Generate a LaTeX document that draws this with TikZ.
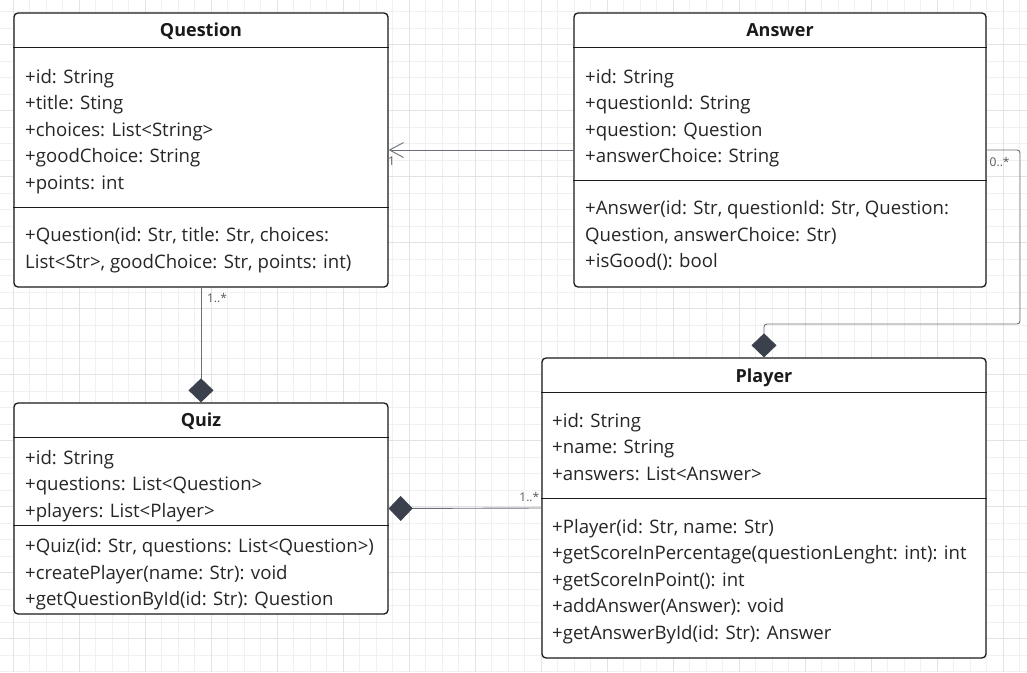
\documentclass[tikz,border=0pt]{standalone}
\usepackage{fontspec}
\setmainfont{Open Sans}
\usetikzlibrary{arrows.meta,positioning,calc}
\definecolor{gridminor}{HTML}{F0F0F0}
\definecolor{gridmajor}{HTML}{E3E3E3}
\definecolor{ink}{HTML}{1A1A1A}
\definecolor{textgray}{HTML}{262626}
\definecolor{linkgray}{HTML}{6B7079}
\definecolor{diamondfill}{HTML}{3B414C}
\tikzset{
  classbox/.style={draw=ink, line width=1.3pt, rounded corners=4pt, fill=white, inner sep=0pt},
  divider/.style={draw=ink, line width=1.3pt},
  classtitle/.style={font=\fontsize{18}{21}\selectfont\bfseries, text=ink, anchor=base, inner sep=0pt},
  member/.style={font=\fontsize{18.6}{22}\selectfont, text=textgray, anchor=base west, inner sep=0pt},
  link/.style={draw=linkgray, line width=0.9pt},
  compose/.style={link, -{Diamond[length=24pt, width=25pt, color=diamondfill]}},
  assoc/.style={link, -{Straight Barb[length=14pt, width=15pt, line width=0.9pt]}},
  mult/.style={font=\fontsize{12}{13}\selectfont, text=linkgray!80!black, inner sep=0pt}
}

\begin{document}
\begin{tikzpicture}[x=1pt, y=-1pt]
  \useasboundingbox (0,0) rectangle (1027,672);
  \fill[white] (0,0) rectangle (1027,672);

  % background grid
  \foreach \k in {0,...,63}
    \draw[gridminor, line width=0.8pt] ({-3.2+16.5*\k},0) -- ({-3.2+16.5*\k},672);
  \foreach \k in {0,...,40}
    \draw[gridminor, line width=0.8pt] (0,{11.7+16.5*\k}) -- (1027,{11.7+16.5*\k});
  \foreach \k in {0,...,15}
    \draw[gridmajor, line width=0.8pt] ({13.3+66*\k},0) -- ({13.3+66*\k},672);
  \foreach \k in {0,...,9}
    \draw[gridmajor, line width=0.8pt] (0,{44.7+66*\k}) -- (1027,{44.7+66*\k});

  % classes
  \node[classbox, minimum width=374pt, minimum height=274pt] (question) at (201,150) {};
  \node[classbox, minimum width=412pt, minimum height=274pt] (answer) at (780,150) {};
  \node[classbox, minimum width=374pt, minimum height=211pt] (quiz) at (201,508.5) {};
  \node[classbox, minimum width=444pt, minimum height=300pt] (player) at (764,508) {};

  \draw[divider] ($(question.north west)+(0,35)$) -- ($(question.north east)+(0,35)$);
  \draw[divider] ($(question.north west)+(0,195)$) -- ($(question.north east)+(0,195)$);
  \draw[divider] ($(answer.north west)+(0,35)$) -- ($(answer.north east)+(0,35)$);
  \draw[divider] ($(answer.north west)+(0,168)$) -- ($(answer.north east)+(0,168)$);
  \draw[divider] ($(quiz.north west)+(0,35)$) -- ($(quiz.north east)+(0,35)$);
  \draw[divider] ($(quiz.north west)+(0,123)$) -- ($(quiz.north east)+(0,123)$);
  \draw[divider] ($(player.north west)+(0,35)$) -- ($(player.north east)+(0,35)$);
  \draw[divider] ($(player.north west)+(0,141)$) -- ($(player.north east)+(0,141)$);

  \node[classtitle] (question-title) at ($(question.north)+(0,24.3)$) {Question};
  \node[classtitle] (answer-title) at ($(answer.north)+(0,24.3)$) {Answer};
  \node[classtitle] (quiz-title) at ($(quiz.north)+(0,24)$) {Quiz};
  \node[classtitle] (player-title) at ($(player.north)+(0,24.7)$) {Player};

  % Question members
  \foreach \txt [count=\i from 0] in {+id: String, +title: Sting, +choices: List<String>, +goodChoice: String, +points: int}
    \node[member] (question-attr-\i) at (25,{83+26.5*\i}) {\txt};
  \foreach \txt [count=\i from 0] in {{+Question(id: Str, title: Str, choices:}, {List<Str>, goodChoice: Str, points: int)}}
    \node[member] (question-op-\i) at (25,{241.7+26.6*\i}) {\txt};

  % Answer members
  \foreach \txt [count=\i from 0] in {+id: String, +questionId: String, +question: Question, +answerChoice: String}
    \node[member] (answer-attr-\i) at (585,{83+26.5*\i}) {\txt};
  \foreach \txt [count=\i from 0] in {{+Answer(id: Str, questionId: Str, Question:}, {Question, answerChoice: Str)}, +isGood(): bool}
    \node[member] (answer-op-\i) at (585,{214.5+26.5*\i}) {\txt};

  % Quiz members
  \foreach \txt [count=\i from 0] in {+id: String, +questions: List<Question>, +players: List<Player>}
    \node[member] (quiz-attr-\i) at (25,{464+26.5*\i}) {\txt};
  \foreach \txt [count=\i from 0] in {{+Quiz(id: Str, questions: List<Question>)}, {+createPlayer(name: Str): void}, {+getQuestionById(id: Str): Question}}
    \node[member] (quiz-op-\i) at (25,{552.8+26.3*\i}) {\txt};

  % Player members
  \foreach \txt [count=\i from 0] in {+id: String, +name: String, +answers: List<Answer>}
    \node[member] (player-attr-\i) at (552,{427.3+26.5*\i}) {\txt};
  \foreach \txt [count=\i from 0] in {{+Player(id: Str, name: Str)}, {+getScoreInPercentage(questionLenght: int): int}, {+getScoreInPoint(): int}, {+addAnswer(Answer): void}, {+getAnswerById(id: Str): Answer}}
    \node[member] (player-op-\i) at (552,{533.3+26.5*\i}) {\txt};

  % relations
  \coordinate (playerbend) at (1020,324);
  \draw[assoc] (answer.west) -- (question.east);
  \draw[compose] (question.south) -- (quiz.north);
  \draw[compose] (player.west) -- (quiz.east);
  \draw[compose, rounded corners=3pt] (answer.east) -| (playerbend) -| (player.north);

  \node[mult] (mult-question) at ($(question.east)+(3,11)$) {1};
  \node[mult] (mult-quiz) at ($(question.south)+(16,10)$) {1..*};
  \node[mult] (mult-player) at ($(player.west)+(-12,-10.5)$) {1..*};
  \node[mult] (mult-answer) at ($(answer.east)+(13,12)$) {0..*};
\end{tikzpicture}
\end{document}
